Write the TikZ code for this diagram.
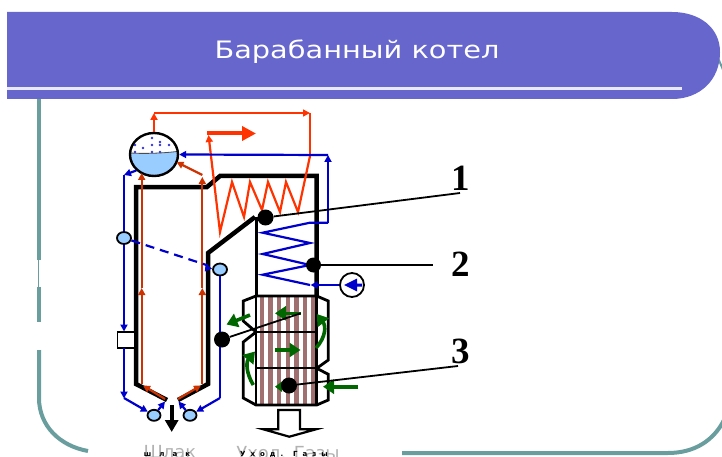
\documentclass[tikz,border=0pt]{standalone}
\usepackage{fontspec}
\setmainfont{DejaVu Sans}
\newfontfamily\numfont{Liberation Serif}
\newfontfamily\titlefont[FakeStretch=1.2]{DejaVu Sans}
\usetikzlibrary{arrows.meta,shapes.geometric,calc}
\definecolor{hdr}{HTML}{6666CC}
\definecolor{teal}{HTML}{6A9E9E}
\definecolor{rd}{HTML}{FF3300}
\definecolor{drd}{HTML}{CC3300}
\definecolor{blu}{HTML}{0000CC}
\definecolor{wat}{HTML}{99CCFF}
\definecolor{grn}{HTML}{006600}
\definecolor{stripe}{HTML}{A07070}
\tikzset{
  frameline/.style={draw=teal,line width=4pt},
  wall/.style={draw=black,line width=4.5pt,line join=miter},
  thin wall/.style={draw=black,line width=2.8pt,line join=miter},
  redline/.style={draw=rd,line width=2.2pt},
  dredline/.style={draw=drd,line width=2.2pt},
  bluline/.style={draw=blu,line width=2.2pt},
  smalltip/.style={-{Triangle[length=7pt,width=7pt]}},
  greenarrow/.style={draw=grn,line width=3.6pt,-{Triangle[length=11pt,width=14pt]}},
  valve/.style={ellipse,draw=black,line width=1.8pt,fill=wat,minimum width=14pt,minimum height=12pt,inner sep=0pt},
  blackdot/.style={circle,fill=black,minimum size=16pt,inner sep=0pt},
  leader/.style={draw=black,line width=1.8pt},
  numlabel/.style={font=\numfont\bfseries\fontsize{37}{37}\selectfont,text=black,inner sep=0pt},
  greytext/.style={font=\fontsize{18}{18}\selectfont,text=black!30,inner sep=0pt},
  tinytext/.style={font=\fontsize{7}{7}\selectfont\bfseries,text=black,inner sep=0pt},
}
\begin{document}
\begin{tikzpicture}[x=1pt,y=-1pt]
\useasboundingbox (0,0) rectangle (722,457);
\clip (0,0) rectangle (722,457);
% frame
\draw[frameline] (39,95) -- (39,260);
\draw[draw=teal,line width=1.5pt] (38.5,260) -- (38.5,287);
\draw[frameline] (39,287) -- (39,322);
\draw[frameline] (39,350) -- (39,398) .. controls (39,426) and (60,446) .. (88,451);
\draw[frameline] (402,453) -- (668,453) .. controls (695,453) and (714,440) .. (724,420);
\draw[draw=teal,line width=2pt] (718,58) -- (724,72);
% header
\fill[hdr] (7,12) -- (672,12) .. controls (700,12) and (720,28) .. (720,52)
  .. controls (720,80) and (700,99) .. (672,99) -- (7,99) -- cycle;
\fill[white!85!hdr] (7,87.5) rectangle (682,90.5);
\node[font=\titlefont\fontsize{24}{24}\selectfont,text=white,inner sep=0pt] (title) at (357,52) {Барабанный котел};
% preheater
\foreach \xx in {261.7,270.4,279,287.7,296.3,305,313.4}
  \fill[stripe] (\xx-2.2,296) rectangle (\xx+2.2,405);
\draw[thin wall] (256,296) -- (243.3,301) -- (243.3,321) -- (256,332) -- (243.3,342) -- (243.3,398) -- (256,405)
  -- (316.7,405) -- (328.3,400) -- (328.3,374.3) -- (316.7,368.3) -- (328.3,360) -- (328.3,301) -- (316.7,296) -- cycle;
\draw[thin wall] (256,296) -- (256,405);
\draw[thin wall] (316.7,296) -- (316.7,405);
\draw[draw=black,line width=2pt] (256,332.3) -- (316.7,332.3);
\draw[draw=black,line width=2pt] (256,368.3) -- (316.7,368.3);
% walls
\draw[wall] (167,400) -- (136,384) -- (136,187) -- (207,187) -- (220,176) -- (316.7,176) -- (316.7,296);
\draw[wall] (178,400) -- (208,384) -- (208,253) -- (255,217);
\draw[draw=black,line width=3.5pt] (256.5,217) -- (256.5,296);
% drum
\begin{scope}
  \clip (154,154.5) ellipse [x radius=24,y radius=21.5];
  \fill[wat] (128,153) .. controls (145,154) and (165,153) .. (180,151) -- (180,178) -- (128,178) -- cycle;
\end{scope}
\foreach \px/\py in {135/145,152/138,160/142,169/145,143/148,152/145,160/145,135/152,152/152,160/152}
  \fill[blu!80] (\px,\py) circle (1.3);
\draw[draw=black!70,line width=.8pt] (131,153) .. controls (145,154) and (165,153) .. (177,151.5);
\node[ellipse,draw=black,line width=2.4pt,minimum width=48pt,minimum height=43pt,inner sep=0pt] (drum) at (154,154.5) {};
% red superheater
\coordinate (rtop) at (154,113);
\coordinate (rcorner) at (310,113);
\coordinate (rjoin) at (310,156);
\draw[redline,smalltip] (drum.north) -- (rtop);
\draw[redline,line width=1.5pt,smalltip] (rtop) -- (rcorner);
\draw[redline] (rcorner) -- (rjoin);
\draw[redline,smalltip,line join=miter] (rjoin) -- (298,212) -- (286,182) -- (280,212) -- (268,182) -- (262,210) -- (250,182) -- (244,217) -- (232,182) -- (220,232) -- (208.5,135);
\draw[draw=rd,line width=4pt,-{Triangle[length=14pt,width=14pt]}] (207,133.5) -- (256,133.5);
% dark-red risers
\draw[dredline,smalltip] (165,399) -- (143,385.5);
\draw[dredline,smalltip] (141.7,384) -- (141.7,288);
\draw[dredline,smalltip] (141.7,288) -- (141.7,173);
\draw[dredline,smalltip] (178,399) -- (201,385.5);
\draw[dredline,smalltip] (202.3,384) -- (202.3,288);
\draw[dredline,smalltip] (202.3,288) -- (202.3,177);
\draw[dredline,smalltip] (202.3,175) -- (176.5,162);
% blue circuit
\node[valve] (vl) at (124,238) {};
\node[valve] (vr) at (220,269.5) {};
\node[valve,minimum width=13pt,minimum height=11pt] (vbl) at (154,415.3) {};
\node[valve,minimum width=13pt,minimum height=11pt] (vbr) at (190,415.3) {};
\node[draw=black,line width=1.8pt,fill=white,minimum width=17pt,minimum height=16pt,inner sep=0pt] (box) at (126,340) {};
\coordinate (bin) at (328,155);
\draw[bluline,smalltip] (bin) -- (drum.east);
\draw[bluline,smalltip] (drum.south west) -- (124,175);
\draw[bluline] (124,175) -- (vl);
\draw[bluline,smalltip] (vl) -- (124,331.5);
\draw[bluline,smalltip] (124,348) -- (124,398.5);
\draw[bluline,smalltip] (124,398) -- (vbl);
\draw[bluline,smalltip] (vbl) -- (165,401.5);
\draw[bluline,smalltip] (220,398) -- (vbr);
\draw[bluline,smalltip] (vbr) -- (178.5,401.5);
\draw[bluline] (vr) -- (220,398);
\draw[bluline,dash pattern=on 9pt off 6pt] (vl) -- (208,265.5);
\draw[bluline,smalltip] (207,268) -- (vr);
\coordinate (binlow) at (328,222.7);
\draw[bluline,smalltip] (binlow) -- (328,155);
\draw[bluline,line join=miter] (binlow) -- (310,222.7) -- (262.7,232.7) -- (310,243) -- (262.7,254) -- (310,265) -- (262.7,274.7) -- (310,285);
\node[circle,draw=black,fill=white,line width=1.8pt,minimum size=24pt,inner sep=0pt] (pump) at (352,285) {};
\draw[bluline,smalltip] (pump.west) -- (310.5,285);
\fill[blu] (344,285) -- (357,278.5) -- (357,283.5) -- (362,283.5) -- (362,286.5) -- (357,286.5) -- (357,291.5) -- cycle;
% hollow arrow
\draw[draw=black,line width=2.2pt,fill=white,line join=miter] (278.3,410) -- (300,410) -- (300,429.3) -- (316,429.3) -- (289.3,436.7) -- (263.3,429.3) -- (278.3,429.3) -- cycle;
% slag arrow
\draw[draw=black,line width=4pt,-{Triangle[length=12pt,width=13pt]}] (171.7,405) -- (171.7,432);
% green
\draw[greenarrow] (250,315) -- (226.5,324.5);
\draw[greenarrow] (301,313.3) -- (275,313.3);
\draw[greenarrow] (275,350) -- (300.5,350);
\draw[greenarrow] (316,348) .. controls (326,337) and (326,326) .. (316.7,314);
\draw[greenarrow] (253.3,385) .. controls (246,373) and (246,362) .. (255,351.5);
\draw[greenarrow] (358.3,386.7) -- (323,386.7);
\draw[greenarrow,-{Triangle[length=7pt,width=10pt]}] (289,386.7) -- (275,386.7);
% callouts
\node[blackdot] (d1) at (265.5,217.5) {};
\node[blackdot,minimum size=15pt] (d2) at (313.5,265) {};
\node[blackdot] (d3) at (289,385.5) {};
\node[blackdot] (d4) at (222,339.5) {};
\coordinate (e1) at (460,193);
\coordinate (e2) at (433,265);
\coordinate (e3) at (458,366);
\coordinate (e4) at (300.7,313.3);
\draw[leader] (d1) -- (e1);
\draw[leader] (d2) -- (e2);
\draw[leader] (d3) -- (e3);
\draw[leader] (d4) -- (e4);
\node[numlabel] (n1) at (461,178) {1};
\node[numlabel] (n2) at (461,264) {2};
\node[numlabel] (n3) at (461,351) {3};
% bottom texts
\node[greytext] (t1) at (170,452) {Шлак};
\node[greytext] (t2) at (288,453) {Ухол. Газы};
\def\gp{\hspace{8pt}}
\def\gq{\hspace{5pt}}
\node[tinytext] (t3) at (167,454.5) {ш\gp л\gp а\gp к};
\node[tinytext] (t4) at (284,454.5) {У\gq х\gq о\gq д\gq .\gq\gq Г\gq а\gq з\gq ы};
\end{tikzpicture}
\end{document}
